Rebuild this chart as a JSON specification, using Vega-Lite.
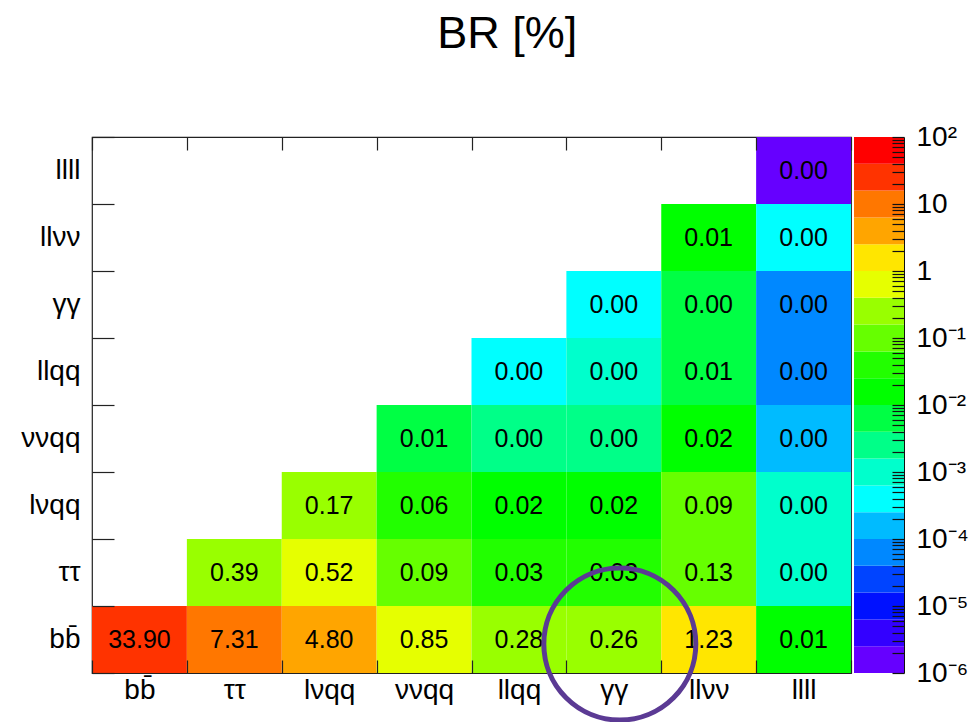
{
  "$schema": "https://vega.github.io/schema/vega-lite/v6.json",
  "background": "white",
  "autosize": {"type": "pad"},
  "padding": {"left": 20, "top": 12, "right": 0, "bottom": 0},
  "config": {
    "font": "Liberation Sans",
    "view": {"stroke": "#222", "strokeWidth": 1.2},
    "axis": {"labelColor": "black", "tickColor": "#222", "tickWidth": 1.2, "grid": false}
  },
  "title": {
    "text": "BR [%]",
    "fontSize": 45,
    "fontWeight": "normal",
    "font": "Liberation Sans",
    "color": "black",
    "anchor": "middle",
    "offset": 65,
    "dx": 13
  },
  "spacing": 1,
  "resolve": {"scale": {"color": "independent"}},
  "hconcat": [
    {
      "width": 759,
      "height": 536,
      "data": {
        "values": [
          {"col": "bb̄", "row": "bb̄", "v": 33.90},
          {"col": "ττ", "row": "bb̄", "v": 7.31},
          {"col": "lνqq", "row": "bb̄", "v": 4.80},
          {"col": "ννqq", "row": "bb̄", "v": 0.85},
          {"col": "llqq", "row": "bb̄", "v": 0.28},
          {"col": "γγ", "row": "bb̄", "v": 0.26},
          {"col": "llνν", "row": "bb̄", "v": 1.23},
          {"col": "llll", "row": "bb̄", "v": 0.012},
          {"col": "ττ", "row": "ττ", "v": 0.39},
          {"col": "lνqq", "row": "ττ", "v": 0.52},
          {"col": "ννqq", "row": "ττ", "v": 0.09},
          {"col": "llqq", "row": "ττ", "v": 0.03},
          {"col": "γγ", "row": "ττ", "v": 0.03},
          {"col": "llνν", "row": "ττ", "v": 0.13},
          {"col": "llll", "row": "ττ", "v": 0.001},
          {"col": "lνqq", "row": "lνqq", "v": 0.17},
          {"col": "ννqq", "row": "lνqq", "v": 0.06},
          {"col": "llqq", "row": "lνqq", "v": 0.02},
          {"col": "γγ", "row": "lνqq", "v": 0.02},
          {"col": "llνν", "row": "lνqq", "v": 0.09},
          {"col": "llll", "row": "lνqq", "v": 0.0011},
          {"col": "ννqq", "row": "ννqq", "v": 0.007},
          {"col": "llqq", "row": "ννqq", "v": 0.0025},
          {"col": "γγ", "row": "ννqq", "v": 0.0026},
          {"col": "llνν", "row": "ννqq", "v": 0.02},
          {"col": "llll", "row": "ννqq", "v": 0.00015},
          {"col": "llqq", "row": "llqq", "v": 0.0004},
          {"col": "γγ", "row": "llqq", "v": 0.0009},
          {"col": "llνν", "row": "llqq", "v": 0.0065},
          {"col": "llll", "row": "llqq", "v": 0.00006},
          {"col": "γγ", "row": "γγ", "v": 0.0004},
          {"col": "llνν", "row": "γγ", "v": 0.0045},
          {"col": "llll", "row": "γγ", "v": 0.00006},
          {"col": "llνν", "row": "llνν", "v": 0.011},
          {"col": "llll", "row": "llνν", "v": 0.0004},
          {"col": "llll", "row": "llll", "v": 0.0000015}
        ]
      },
      "encoding": {
        "x": {
          "field": "col",
          "type": "nominal",
          "scale": {"domain": ["bb̄", "ττ", "lνqq", "ννqq", "llqq", "γγ", "llνν", "llll"], "paddingInner": 0, "paddingOuter": 0},
          "axis": {
            "orient": "bottom",
            "title": null,
            "domain": false,
            "tickBand": "extent",
            "tickSize": -13,
            "labelAngle": 0,
            "labelPadding": 16,
            "labelFontSize": 28,
            "zindex": 1,
            "encode": {"labels": {"update": {"dy": {"signal": "datum.value === 'bb̄' ? 9 : (indexof(datum.value, 'γ') >= 0 || indexof(datum.value, 'τ') >= 0) ? -5 : 0"}}}}
          }
        },
        "y": {
          "field": "row",
          "type": "nominal",
          "scale": {"domain": ["llll", "llνν", "γγ", "llqq", "ννqq", "lνqq", "ττ", "bb̄"], "paddingInner": 0, "paddingOuter": 0},
          "axis": {
            "title": null,
            "domain": false,
            "tickBand": "extent",
            "tickSize": -22,
            "labelPadding": 34,
            "labelFontSize": 28,
            "zindex": 1
          }
        }
      },
      "layer": [
        {
          "mark": {"type": "rect"},
          "encoding": {
            "color": {
              "field": "v",
              "type": "quantitative",
              "scale": {
                "type": "threshold",
                "domain": [2.5119e-6, 6.3096e-6, 1.5849e-5, 3.9811e-5, 1e-4, 2.5119e-4, 6.3096e-4, 1.5849e-3, 3.9811e-3, 0.01, 0.025119, 0.063096, 0.15849, 0.39811, 1, 2.5119, 6.3096, 15.849, 39.811],
                "range": ["#6600FF", "#3300FF", "#0011FF", "#0044FF", "#0088FF", "#00BBFF", "#00FFFF", "#00FFCC", "#00FF88", "#00FF44", "#00FF00", "#22FF00", "#66FF00", "#99FF00", "#E6FF00", "#FFE600", "#FFA500", "#FF7700", "#FF3300", "#FF0000"]
              },
              "legend": null
            }
          }
        },
        {
          "mark": {"type": "text", "fontSize": 25, "font": "Liberation Sans", "color": "black"},
          "encoding": {
            "text": {"field": "v", "type": "quantitative", "format": ".2f"},
            "x": {
              "field": "col",
              "type": "nominal",
              "axis": {"orient": "top", "title": null, "labels": false, "domain": false, "tickBand": "extent", "tickSize": -13, "zindex": 1}
            }
          }
        },
        {
          "data": {"values": [{"col": "γγ", "row": "bb̄"}]},
          "mark": {"type": "point", "shape": "circle", "size": 23104, "filled": false, "opacity": 1, "color": "#5b3a94", "strokeWidth": 5, "xOffset": 6, "yOffset": 4.5, "clip": false},
          "encoding": {
            "x": {"field": "col", "type": "nominal", "axis": null}
          }
        }
      ],
      "resolve": {"axis": {"x": "independent"}}
    },
    {
      "width": 50,
      "height": 536,
      "view": {"stroke": null},
      "data": {
        "values": [
          {"lo": 1e-6, "hi": 2.5119e-6},
          {"lo": 2.5119e-6, "hi": 6.3096e-6},
          {"lo": 6.3096e-6, "hi": 1.5849e-5},
          {"lo": 1.5849e-5, "hi": 3.9811e-5},
          {"lo": 3.9811e-5, "hi": 1e-4},
          {"lo": 1e-4, "hi": 2.5119e-4},
          {"lo": 2.5119e-4, "hi": 6.3096e-4},
          {"lo": 6.3096e-4, "hi": 1.5849e-3},
          {"lo": 1.5849e-3, "hi": 3.9811e-3},
          {"lo": 3.9811e-3, "hi": 0.01},
          {"lo": 0.01, "hi": 0.025119},
          {"lo": 0.025119, "hi": 0.063096},
          {"lo": 0.063096, "hi": 0.15849},
          {"lo": 0.15849, "hi": 0.39811},
          {"lo": 0.39811, "hi": 1},
          {"lo": 1, "hi": 2.5119},
          {"lo": 2.5119, "hi": 6.3096},
          {"lo": 6.3096, "hi": 15.849},
          {"lo": 15.849, "hi": 39.811},
          {"lo": 39.811, "hi": 100}
        ]
      },
      "mark": {"type": "rect"},
      "encoding": {
        "y": {
          "field": "lo",
          "type": "quantitative",
          "scale": {"type": "log", "domain": [1e-6, 100], "nice": false, "zero": false},
          "axis": {
            "orient": "right",
            "title": null,
            "domain": true,
            "domainColor": "#111",
            "tickColor": "#111",
            "tickSize": -12,
            "labelPadding": 24,
            "labelFontSize": 28,
            "labelOverlap": false,
            "labelFlush": false,
            "zindex": 1,
            "values": [1e-6, 2e-6, 3e-6, 4e-6, 5e-6, 6e-6, 7e-6, 8e-6, 9e-6,
                       1e-5, 2e-5, 3e-5, 4e-5, 5e-5, 6e-5, 7e-5, 8e-5, 9e-5,
                       1e-4, 2e-4, 3e-4, 4e-4, 5e-4, 6e-4, 7e-4, 8e-4, 9e-4,
                       1e-3, 2e-3, 3e-3, 4e-3, 5e-3, 6e-3, 7e-3, 8e-3, 9e-3,
                       0.01, 0.02, 0.03, 0.04, 0.05, 0.06, 0.07, 0.08, 0.09,
                       0.1, 0.2, 0.3, 0.4, 0.5, 0.6, 0.7, 0.8, 0.9,
                       1, 2, 3, 4, 5, 6, 7, 8, 9,
                       10, 20, 30, 40, 50, 60, 70, 80, 90, 100],
            "labelExpr": "datum.value == 100 ? '10²' : datum.value == 10 ? '10' : datum.value == 1 ? '1' : datum.value == 0.1 ? '10⁻¹' : datum.value == 0.01 ? '10⁻²' : datum.value == 0.001 ? '10⁻³' : datum.value == 0.0001 ? '10⁻⁴' : datum.value == 0.00001 ? '10⁻⁵' : datum.value == 0.000001 ? '10⁻⁶' : ''",
            "encode": {"ticks": {"update": {"x2": {"signal": "(datum.value == 100 || datum.value == 10 || datum.value == 1 || datum.value == 0.1 || datum.value == 0.01 || datum.value == 0.001 || datum.value == 0.0001 || datum.value == 0.00001 || datum.value == 0.000001) ? -23 : -12"}}}}
          }
        },
        "y2": {"field": "hi"},
        "color": {
          "field": "lo",
          "type": "quantitative",
          "scale": {
            "type": "threshold",
            "domain": [2.5119e-6, 6.3096e-6, 1.5849e-5, 3.9811e-5, 1e-4, 2.5119e-4, 6.3096e-4, 1.5849e-3, 3.9811e-3, 0.01, 0.025119, 0.063096, 0.15849, 0.39811, 1, 2.5119, 6.3096, 15.849, 39.811],
            "range": ["#6600FF", "#3300FF", "#0011FF", "#0044FF", "#0088FF", "#00BBFF", "#00FFFF", "#00FFCC", "#00FF88", "#00FF44", "#00FF00", "#22FF00", "#66FF00", "#99FF00", "#E6FF00", "#FFE600", "#FFA500", "#FF7700", "#FF3300", "#FF0000"]
          },
          "legend": null
        }
      }
    }
  ]
}
